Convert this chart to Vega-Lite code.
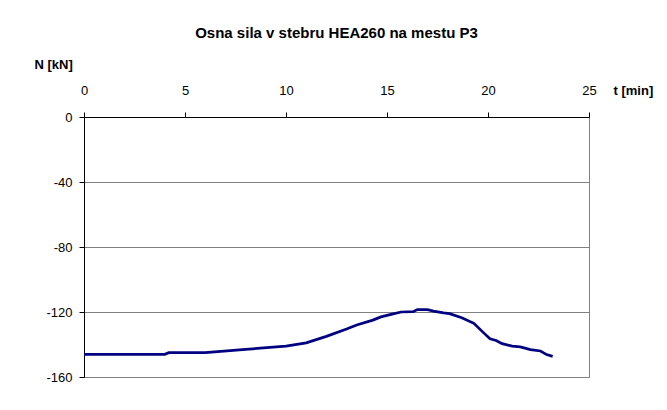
{
  "$schema": "https://vega.github.io/schema/vega-lite/v6.json",
  "width": 505,
  "height": 260,
  "autosize": {"type": "none"},
  "padding": {"left": 84, "top": 117, "right": 78, "bottom": 33},
  "background": "white",
  "title": {
    "text": "Osna sila v stebru HEA260 na mestu P3",
    "font": "Liberation Sans",
    "fontSize": 15,
    "fontWeight": "bold",
    "color": "black",
    "anchor": "middle",
    "offset": 17
  },
  "config": {
    "view": {"stroke": "#808080", "strokeWidth": 1},
    "font": "Liberation Sans"
  },
  "data": {
    "values": [
      {"t": 0, "N": -146},
      {"t": 4.0, "N": -146},
      {"t": 4.2, "N": -145},
      {"t": 6.0, "N": -145},
      {"t": 8.0, "N": -143},
      {"t": 10.0, "N": -141},
      {"t": 11.0, "N": -139},
      {"t": 12.0, "N": -135},
      {"t": 13.0, "N": -130.5},
      {"t": 13.5, "N": -128},
      {"t": 14.3, "N": -125},
      {"t": 14.7, "N": -123},
      {"t": 15.2, "N": -121.5},
      {"t": 15.7, "N": -120},
      {"t": 16.3, "N": -119.8},
      {"t": 16.5, "N": -118.5},
      {"t": 17.0, "N": -118.5},
      {"t": 17.3, "N": -119.5},
      {"t": 17.8, "N": -120.5},
      {"t": 18.1, "N": -121},
      {"t": 18.7, "N": -123.5},
      {"t": 19.3, "N": -127},
      {"t": 19.8, "N": -133},
      {"t": 20.1, "N": -136.5},
      {"t": 20.4, "N": -137.5},
      {"t": 20.7, "N": -139.5},
      {"t": 21.2, "N": -141},
      {"t": 21.6, "N": -141.5},
      {"t": 22.1, "N": -143.2},
      {"t": 22.6, "N": -144},
      {"t": 22.9, "N": -146.2},
      {"t": 23.2, "N": -147.3}
    ]
  },
  "mark": {"type": "line", "color": "#000080", "strokeWidth": 2.75, "interpolate": "linear"},
  "encoding": {
    "x": {
      "field": "t",
      "type": "quantitative",
      "scale": {"domain": [0, 25], "nice": false, "zero": false},
      "axis": {
        "orient": "top",
        "values": [0, 5, 10, 15, 20, 25],
        "grid": false,
        "domainColor": "black",
        "tickColor": "black",
        "tickSize": 5,
        "labelFontSize": 13,
        "labelColor": "black",
        "labelPadding": 15,
        "labelFlush": false,
        "title": "t [min]",
        "titleFontSize": 13,
        "titleFontWeight": "bold",
        "titleColor": "black",
        "titleX": 529,
        "titleY": -27,
        "titleAlign": "left",
        "titleBaseline": "middle",
        "titleAngle": 0
      }
    },
    "y": {
      "field": "N",
      "type": "quantitative",
      "scale": {"domain": [-160, 0], "nice": false, "zero": false},
      "axis": {
        "values": [0, -40, -80, -120, -160],
        "grid": true,
        "gridColor": "#808080",
        "gridOpacity": 1,
        "domainColor": "black",
        "tickColor": "black",
        "tickSize": 5,
        "labelFontSize": 13,
        "labelColor": "black",
        "labelPadding": 7,
        "labelFlush": false,
        "labelExpr": "replace(datum.label, '\u2212', '-')",
        "title": "N [kN]",
        "titleFontSize": 13,
        "titleFontWeight": "bold",
        "titleColor": "black",
        "titleX": -50,
        "titleY": -53,
        "titleAlign": "left",
        "titleBaseline": "middle",
        "titleAngle": 0
      }
    }
  }
}
